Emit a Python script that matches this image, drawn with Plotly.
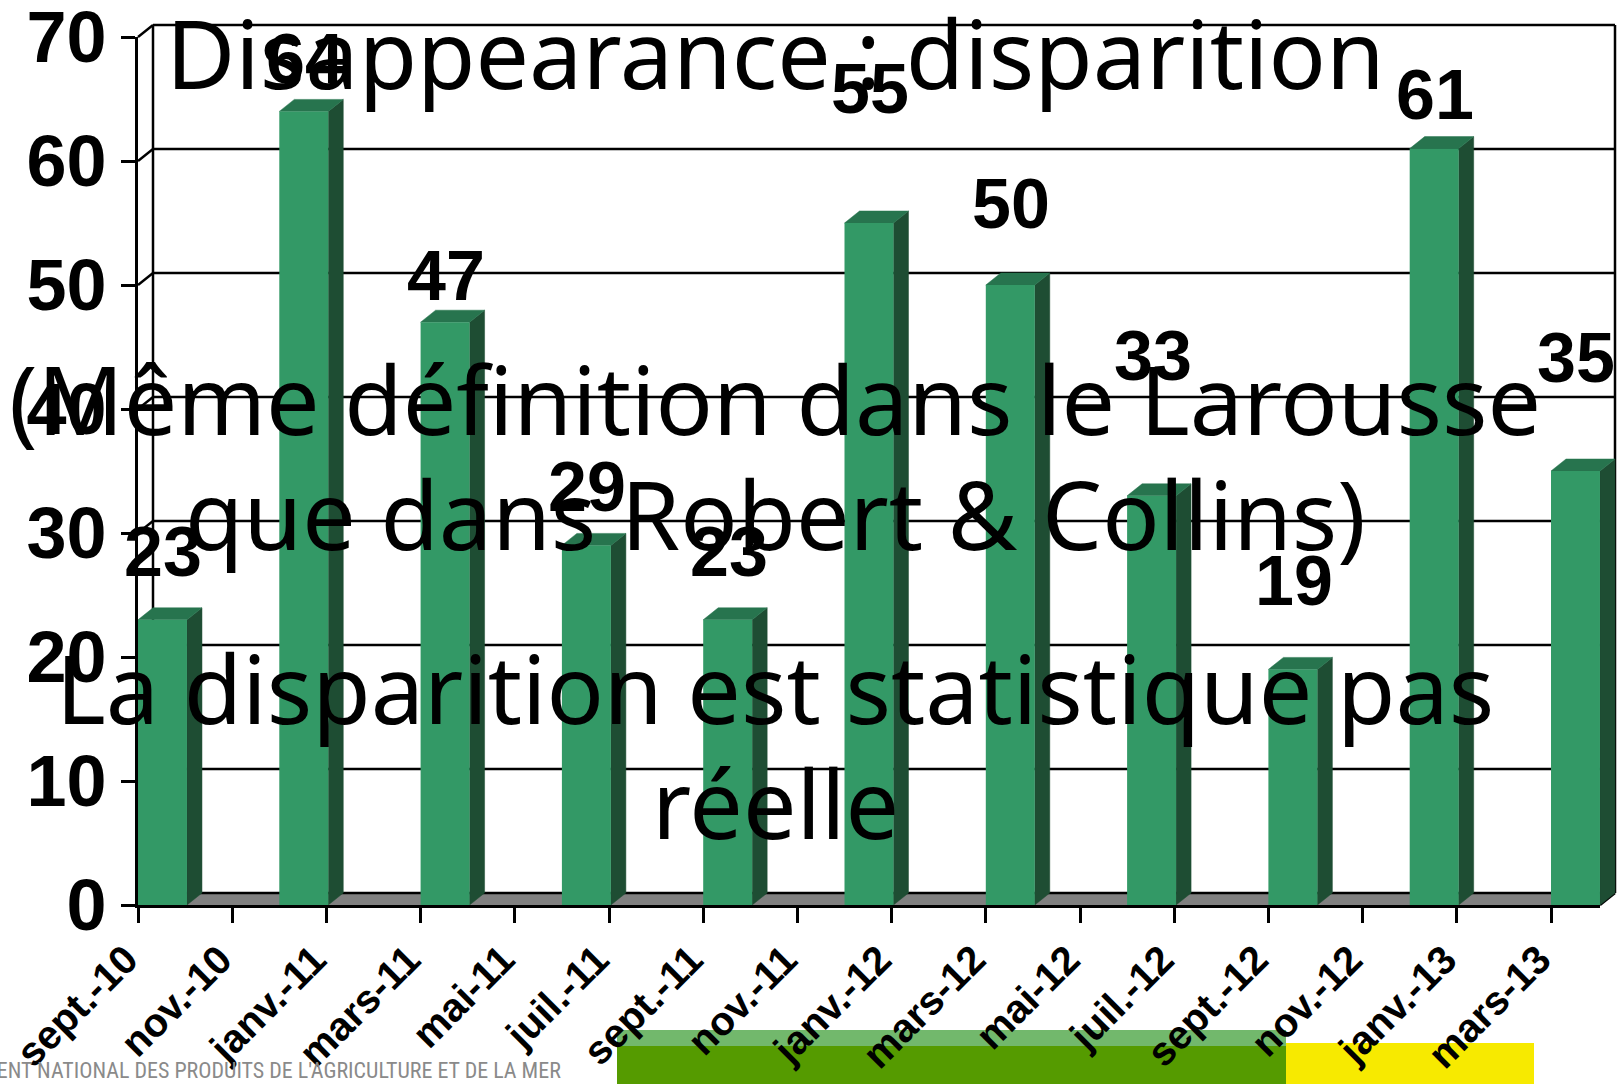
import plotly.graph_objects as go

# ---------------- data ----------------
TICK_LABELS = ['sept.-10', 'nov.-10', 'janv.-11', 'mars-11', 'mai-11', 'juil.-11',
               'sept.-11', 'nov.-11', 'janv.-12', 'mars-12', 'mai-12', 'juil.-12',
               'sept.-12', 'nov.-12', 'janv.-13', 'mars-13']
TICK_MONTHS = ['2010-09', '2010-11', '2011-01', '2011-03', '2011-05', '2011-07',
               '2011-09', '2011-11', '2012-01', '2012-03', '2012-05', '2012-07',
               '2012-09', '2012-11', '2013-01', '2013-03']
BAR_MONTHS = ['2010-09', '2010-12', '2011-03', '2011-06', '2011-09', '2011-12',
              '2012-03', '2012-06', '2012-09', '2012-12', '2013-03']
VALUES = [23, 64, 47, 29, 23, 55, 50, 33, 19, 61, 35]
Y_TICKS = [0, 10, 20, 30, 40, 50, 60, 70]
# label placement above each bar (value units), as laid out in the original
LABEL_LIFT = [5.5, 4.2, 3.7, 4.7, 5.5, 10.8, 6.5, 11.3, 7.1, 4.3, 9.1]

OVERLAY_LINES = ["Disappearance : disparition",
                 "(Même définition dans le Larousse",
                 "que dans Robert & Collins)",
                 "La disparition est statistique pas",
                 "réelle"]
FOOTER_TEXT = "ETABLISSEMENT NATIONAL DES PRODUITS DE L'AGRICULTURE ET DE LA MER"

# ---------------- geometry / style ----------------
W, H = 1619, 1084
X0_PX, Y0_PX = 138, 905          # pixel of month 0 / value 0
PXM, PXU = 47.1, 12.4            # px per month, px per unit
X_END_PX = 1600
DX_PX, DY_PX = 15, 12            # 3D depth
BW = 1.04                        # bar width in months
Y_MAX = 70

FRONT = '#339966'
SIDE = '#1E4D33'
TOP = '#27744E'
FLOOR = '#808080'
TXT_FONT = "Arial, Liberation Sans, sans-serif"
HAND_FONT = "Comic Sans MS, Noto Sans, sans-serif"


def month_index(s):
    y, m = map(int, s.split('-'))
    return (y - 2010) * 12 + (m - 9)


tick_idx = [month_index(s) for s in TICK_MONTHS]
bar_idx = [month_index(s) for s in BAR_MONTHS]

x_end = (X_END_PX - X0_PX) / PXM
dxu = DX_PX / PXM
dyu = DY_PX / PXU

fig = go.Figure()

# ---- back wall / floor (large invisible axes x/y) ----
fx = [0, x_end, x_end + dxu, dxu, 0]
fy = [0, 0, dyu, dyu, 0]
fig.add_trace(go.Scatter(x=fx, y=fy, fill='toself', fillcolor=FLOOR, mode='none',
                         xaxis='x', yaxis='y', hoverinfo='skip', showlegend=False))

lx, ly = [], []
for v in Y_TICKS:
    if v > 0:
        lx += [dxu, x_end + dxu, None]
        ly += [v + dyu, v + dyu, None]
    lx += [0, dxu, None]
    ly += [v, v + dyu, None]
lx += [dxu, dxu, None, x_end + dxu, x_end + dxu, None, x_end, x_end + dxu, None,
       dxu, x_end + dxu, None]
ly += [dyu, Y_MAX + dyu, None, dyu, Y_MAX + dyu, None, 0, dyu, None, dyu, dyu, None]
fig.add_trace(go.Scatter(x=lx, y=ly, mode='lines', line=dict(color='black', width=2.5),
                         xaxis='x', yaxis='y', hoverinfo='skip', showlegend=False))

# bar sides and tops
sx, sy, tx, ty = [], [], [], []
for m, v in zip(bar_idx, VALUES):
    x0, x1 = m, m + BW
    sx += [x1, x1 + dxu, x1 + dxu, x1, x1, None]
    sy += [0, dyu, v + dyu, v, 0, None]
    tx += [x0, x1, x1 + dxu, x0 + dxu, x0, None]
    ty += [v, v, v + dyu, v + dyu, v, None]
fig.add_trace(go.Scatter(x=sx, y=sy, fill='toself', fillcolor=SIDE, mode='lines',
                         line=dict(color=SIDE, width=0.5),
                         xaxis='x', yaxis='y', hoverinfo='skip', showlegend=False))
fig.add_trace(go.Scatter(x=tx, y=ty, fill='toself', fillcolor=TOP, mode='lines',
                         line=dict(color=TOP, width=0.5),
                         xaxis='x', yaxis='y', hoverinfo='skip', showlegend=False))

# ---- front faces (front axes x2/y2) ----
fig.add_trace(go.Bar(x=[m + BW / 2 for m in bar_idx], y=VALUES, width=[BW] * len(VALUES),
                     marker=dict(color=FRONT, line=dict(width=0)),
                     xaxis='x2', yaxis='y2', hoverinfo='skip', showlegend=False))

# ---- layout ----
layout = dict(
    width=W, height=H,
    margin=dict(l=0, r=0, t=0, b=0, autoexpand=False),
    paper_bgcolor='white', plot_bgcolor='rgba(0,0,0,0)',
    showlegend=False,
    xaxis=dict(domain=[0, 1], range=[-X0_PX / PXM, (W - X0_PX) / PXM], visible=False,
               fixedrange=True, automargin=False),
    yaxis=dict(domain=[0, 1], range=[-(H - Y0_PX) / PXU, Y0_PX / PXU], visible=False,
               fixedrange=True, automargin=False),
    xaxis2=dict(domain=[X0_PX / W, X_END_PX / W], range=[0, x_end], anchor='y2',
                automargin=False,
                tickmode='array', tickvals=tick_idx, ticktext=TICK_LABELS,
                tickangle=-45, ticks='outside', ticklen=15, tickwidth=2.5,
                tickcolor='black', showline=True, linewidth=3, linecolor='black',
                showgrid=False, zeroline=False, ticklabelstandoff=-3,
                ticklabelshift=-12, ticklabeloverflow='allow',
                tickfont=dict(family=TXT_FONT, size=40, color='black', weight='bold')),
    yaxis2=dict(domain=[(H - Y0_PX) / H, (H - Y0_PX + Y_MAX * PXU) / H], range=[0, Y_MAX],
                anchor='x2', automargin=False, tickmode='array', tickvals=Y_TICKS,
                ticks='outside', ticklen=14, tickwidth=2.5, tickcolor='black',
                showline=True, linewidth=3, linecolor='black',
                showgrid=False, zeroline=False, ticklabelstandoff=0,
                ticklabeloverflow='allow',
                tickfont=dict(family=TXT_FONT, size=72, color='black', weight='bold')),
)

shapes = [
    dict(type='rect', xref='paper', yref='paper', x0=617 / W, x1=1286 / W,
         y0=0, y1=1 - 1030 / H, fillcolor='#559B00', line=dict(width=0), layer='below'),
    dict(type='rect', xref='paper', yref='paper', x0=617 / W, x1=1286 / W,
         y0=1 - 1046 / H, y1=1 - 1030 / H, fillcolor='#72B86C', line=dict(width=0),
         layer='below'),
    dict(type='rect', xref='paper', yref='paper', x0=1286 / W, x1=1534 / W,
         y0=0, y1=1 - 1043 / H, fillcolor='#F7EA00', line=dict(width=0), layer='below'),
]
layout['shapes'] = shapes

ann = []
for m, v, lift in zip(bar_idx, VALUES, LABEL_LIFT):
    ann.append(dict(xref='x2', yref='y2', x=m + BW / 2 + 0.02, y=v + lift, text=str(v),
                    showarrow=False, yanchor='middle', xanchor='center',
                    font=dict(family=TXT_FONT, size=70, color='black', weight='bold')))

OVERLAY_Y = [52, 398, 513, 687, 802]
for txt, ypx in zip(OVERLAY_LINES, OVERLAY_Y):
    ann.append(dict(xref='paper', yref='paper', x=775 / W, y=1 - ypx / H, text=txt,
                    showarrow=False, xanchor='center', yanchor='middle',
                    font=dict(family=HAND_FONT, size=95, color='black')))

ann.append(dict(xref='paper', yref='paper', x=563 / W, y=1 - 1070 / H, text=FOOTER_TEXT,
                showarrow=False, xanchor='right', yanchor='middle',
                font=dict(family="Liberation Sans Narrow, Roboto Condensed, Liberation Sans",
                          size=22, color='#8A8A8A')))
layout['annotations'] = ann

fig.update_layout(**layout)
fig.write_html("out.html", config={'displayModeBar': False},
               post_script="document.body.style.margin='0';")
